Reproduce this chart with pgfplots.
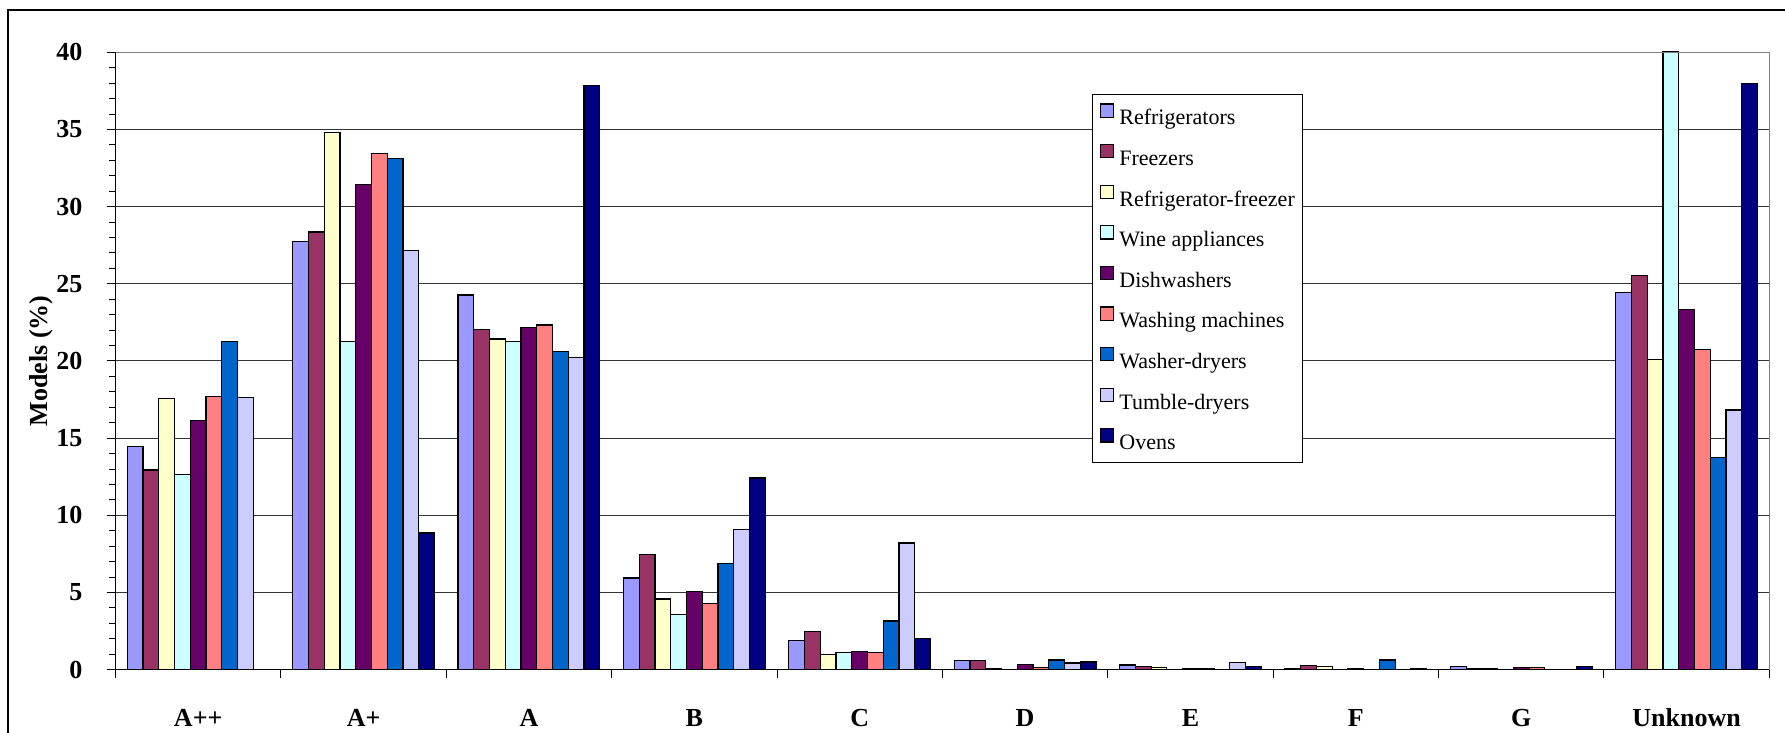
\documentclass[border=0pt]{standalone}
\usepackage{fontspec}
\setmainfont{Liberation Serif}
\usepackage{pgfplots}
\pgfplotsset{compat=1.18}

\definecolor{cRef}{HTML}{9999FF}
\definecolor{cFrz}{HTML}{993366}
\definecolor{cRF}{HTML}{FFFFCC}
\definecolor{cWine}{HTML}{CCFFFF}
\definecolor{cDish}{HTML}{660066}
\definecolor{cWash}{HTML}{FF8080}
\definecolor{cWD}{HTML}{0066CC}
\definecolor{cTum}{HTML}{CCCCFF}
\definecolor{cOven}{HTML}{000080}

\pgfplotsset{
  cbar/.style 2 args={ybar, bar width=0.095238, bar shift=#2, fill=#1, draw=black, line width=0.6pt,
    legend image code/.code={\draw[fill=#1, draw=black, line width=0.6pt] (0pt,0pt) rectangle (6.8pt,6.6pt);}},
}

\begin{document}
\begin{tikzpicture}
\path[use as bounding box] (-57.75pt,-31.65pt) rectangle (834.75pt,334.85pt);
% chart frame (left and top sides visible)
\draw[line width=1.2pt] (-53.6pt,-40pt) -- (-53.6pt,329.85pt) -- (850pt,329.85pt);
\begin{axis}[
  at={(0pt,0pt)}, anchor=south west,
  scale only axis, width=826.9pt, height=308.7pt,
  xmin=-0.5, xmax=9.5, ymin=0, ymax=40,
  clip=false,
  xtick={-0.5,0.5,...,9.5},
  x tick label as interval,
  xticklabels={A++,A+,A,B,C,D,E,F,G,Unknown},
  ytick={0,5,...,40},
  minor y tick num=4,
  xtick pos=bottom, ytick pos=left,
  tick align=outside,
  major tick length=4.4pt, minor tick length=3.3pt,
  tick style={black, line width=0.5pt},
  ymajorgrids, grid style={black!80, line width=0.5pt},
  axis line style={draw=none},
  /pgf/number format/assume math mode=true,
  ticklabel style={font=\fontsize{13}{15}\selectfont\bfseries},
  xticklabel style={anchor=base, yshift=-24pt},
  yticklabel style={anchor=east, inner sep=0pt, xshift=-11.9pt},
  ylabel={Models (\%)},
  every axis y label/.style={at={(axis description cs:-0.0452,0.5)}, anchor=center, rotate=90,
    font=\fontsize{13}{15}\selectfont\bfseries},
  legend cell align=left,
  legend style={at={(0.5905,0.9325)}, anchor=north west, draw=black, line width=0.5pt, fill=white,
    font=\fontsize{11}{13}\selectfont, inner xsep=3.5pt, inner ysep=4.5pt,
    row sep=7.6pt, column sep=2pt, nodes={inner sep=0.5pt}},
]
\addplot[cbar={cRef}{-0.380952}] coordinates {(0,14.48) (1,27.76) (2,24.27) (3,5.94) (4,1.91) (5,0.60) (6,0.30) (7,0.10) (8,0.20) (9,24.42)};
\addlegendentry{\strut Refrigerators}
\addplot[cbar={cFrz}{-0.285714}] coordinates {(0,12.94) (1,28.36) (2,22.06) (3,7.45) (4,2.48) (5,0.60) (6,0.20) (7,0.28) (8,0.10) (9,25.52)};
\addlegendentry{\strut Freezers}
\addplot[cbar={cRF}{-0.190476}] coordinates {(0,17.58) (1,34.79) (2,21.42) (3,4.58) (4,0.97) (5,0.09) (6,0.15) (7,0.20) (8,0.10) (9,20.09)};
\addlegendentry{\strut Refrigerator-freezer}
\addplot[cbar={cWine}{-0.095238}] coordinates {(0,12.64) (1,21.27) (2,21.27) (3,3.58) (4,1.09) (9,40.06)};
\addlegendentry{\strut Wine appliances}
\addplot[cbar={cDish}{0}] coordinates {(0,16.15) (1,31.42) (2,22.15) (3,5.09) (4,1.18) (5,0.35) (6,0.10) (7,0.08) (8,0.12) (9,23.33)};
\addlegendentry{\strut Dishwashers}
\addplot[cbar={cWash}{0.095238}] coordinates {(0,17.70) (1,33.45) (2,22.33) (3,4.30) (4,1.12) (5,0.15) (6,0.10) (8,0.12) (9,20.76)};
\addlegendentry{\strut Washing machines}
\addplot[cbar={cWD}{0.190476}] coordinates {(0,21.24) (1,33.12) (2,20.60) (3,6.88) (4,3.15) (5,0.63) (7,0.63) (9,13.73)};
\addlegendentry{\strut Washer-dryers}
\addplot[cbar={cTum}{0.285714}] coordinates {(0,17.64) (1,27.15) (2,20.21) (3,9.06) (4,8.21) (5,0.43) (6,0.45) (9,16.82)};
\addlegendentry{\strut Tumble-dryers}
\addplot[cbar={cOven}{0.380952}] coordinates {(1,8.85) (2,37.85) (3,12.42) (4,2.03) (5,0.50) (6,0.20) (7,0.06) (8,0.20) (9,38.00)};
\addlegendentry{\strut Ovens}
% plot area border
\draw[black!50, line width=0.6pt] (rel axis cs:0,1) -- (rel axis cs:1,1) -- (rel axis cs:1,0);
\draw[black, line width=0.6pt] (rel axis cs:0,1) -- (rel axis cs:0,0) -- (rel axis cs:1,0);
\end{axis}
\end{tikzpicture}
\end{document}
